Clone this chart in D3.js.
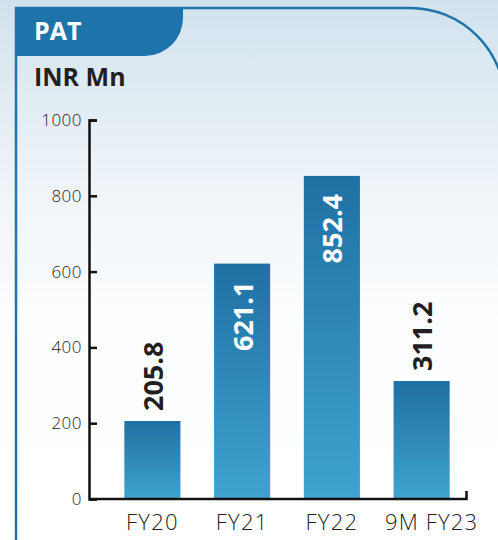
<!DOCTYPE html>
<html lang="en">
<head>
  <meta charset="UTF-8">
  <title>PAT - INR Mn</title>
  <script src="https://cdn.jsdelivr.net/npm/d3@7"></script>
  <style>
    html, body {
      margin: 0;
      padding: 0;
      background: #fff;
    }
    #chart svg {
      display: block;
    }
  </style>
</head>
<body>
  <div id="chart"></div>

  <script>
    // Values
    const categories = ['FY20', 'FY21', 'FY22', '9M FY23'];
    const patValues = [205.8, 621.1, 852.4, 311.2];
    const yTicks = [0, 200, 400, 600, 800, 1000];

    const width = 498;
    const height = 540;
    const font = '"Open Sans", "DejaVu Sans", sans-serif';
    const blue = '#1f74a9';

    const svg = d3.select('#chart')
      .append('svg')
      .attr('width', width)
      .attr('height', height)
      .attr('viewBox', [0, 0, width, height]);

    const defs = svg.append('defs');

    // Page background: pale blue fading to white
    const bg = defs.append('linearGradient')
      .attr('id', 'bg')
      .attr('x1', 0).attr('y1', 0).attr('x2', 0).attr('y2', 1);
    bg.append('stop').attr('offset', '0%').attr('stop-color', '#d1e2ed');
    bg.append('stop').attr('offset', '30%').attr('stop-color', '#ebf2f7');
    bg.append('stop').attr('offset', '60%').attr('stop-color', '#fdfeff');
    bg.append('stop').attr('offset', '100%').attr('stop-color', '#ffffff');

    // Bars: darker blue on top, lighter at the base
    const barGrad = defs.append('linearGradient')
      .attr('id', 'bar-grad')
      .attr('x1', 0).attr('y1', 0).attr('x2', 0).attr('y2', 1);
    barGrad.append('stop').attr('offset', '0%').attr('stop-color', '#2070a4');
    barGrad.append('stop').attr('offset', '100%').attr('stop-color', '#3fa3cf');

    svg.append('rect')
      .attr('width', width)
      .attr('height', height)
      .attr('fill', 'url(#bg)');

    // Panel outline with the big rounded top-right corner
    const panelLeft = 16, panelTop = 8, cornerR = 95;
    svg.append('path')
      .attr('d', `M${panelLeft},${height + 5} V${panelTop} H${width + 7 - cornerR} ` +
        `A${cornerR},${cornerR} 0 0 1 ${width + 7},${panelTop + cornerR} V${height + 5}`)
      .attr('fill', 'none')
      .attr('stroke', blue)
      .attr('stroke-width', 2.5);

    // Title tab
    const tabW = 183, tabH = 56, tabR = 38;
    svg.append('path')
      .attr('d', `M${panelLeft - 1},${panelTop - 1} H${tabW} V${tabH - tabR} ` +
        `A${tabR},${tabR} 0 0 1 ${tabW - tabR},${tabH} H${panelLeft - 1} Z`)
      .attr('fill', '#1c74aa');

    svg.append('text')
      .attr('x', 34)
      .attr('y', 40)
      .attr('fill', '#fff')
      .attr('font-family', font)
      .attr('font-weight', 700)
      .attr('font-size', 25)
      .text('PAT');

    svg.append('text')
      .attr('x', 34)
      .attr('y', 86)
      .attr('fill', '#231f20')
      .attr('font-family', font)
      .attr('font-weight', 700)
      .attr('font-size', 25)
      .text('INR Mn');

    // Scales
    const axisX = 89;
    const y = d3.scaleLinear()
      .domain([0, 1000])
      .range([499, 120]);

    const x = d3.scaleBand()
      .domain(categories)
      .range([107.5, 466.5])
      .paddingInner(0.375)
      .paddingOuter(0.1875);

    // Bars
    svg.append('g')
      .selectAll('rect')
      .data(patValues)
      .join('rect')
      .attr('x', (d, i) => x(categories[i]))
      .attr('y', d => y(d))
      .attr('width', x.bandwidth())
      .attr('height', d => y(0) - y(d))
      .attr('fill', 'url(#bar-grad)');

    // Y axis (ticks point inwards)
    const yAxis = svg.append('g')
      .attr('transform', `translate(${axisX},0)`)
      .call(d3.axisLeft(y)
        .tickValues(yTicks)
        .tickFormat(d3.format('d'))
        .tickSize(-8)
        .tickPadding(7));

    yAxis.selectAll('path, line')
      .attr('stroke', '#111')
      .attr('stroke-width', 2.5);
    yAxis.selectAll('text')
      .attr('fill', '#222')
      .attr('font-family', font)
      .attr('font-weight', 300)
      .attr('font-size', 17)
      .attr('letter-spacing', 0.5);

    // X axis: baseline with a small upturned end
    const xAxis = svg.append('g')
      .attr('transform', `translate(0,${y(0)})`)
      .call(d3.axisBottom(x).tickSize(0).tickPadding(15));

    xAxis.select('.domain').remove();
    xAxis.selectAll('text')
      .attr('fill', '#222')
      .attr('font-family', font)
      .attr('font-weight', 300)
      .attr('font-size', 22)
      .attr('letter-spacing', 1.2);
    // the last label sits a little right of its bar in the original
    xAxis.selectAll('.tick:last-of-type text').attr('dx', 10);

    const xEnd = x.range()[1];
    svg.append('path')
      .attr('d', `M${axisX},${y(0)} H${xEnd} V${y(0) - 8}`)
      .attr('fill', 'none')
      .attr('stroke', '#111')
      .attr('stroke-width', 2.5);

    // Value labels, rotated; inside tall bars, above short ones
    svg.append('g')
      .selectAll('text')
      .data(patValues)
      .join('text')
      .attr('transform', (d, i) => {
        const cx = x(categories[i]) + x.bandwidth() / 2;
        const ly = d > 500 ? y(d) + 18 : y(d) - 10;
        return `translate(${cx},${ly}) rotate(-90)`;
      })
      .attr('text-anchor', d => d > 500 ? 'end' : 'start')
      .attr('dominant-baseline', 'central')
      .attr('fill', d => d > 500 ? '#fff' : '#231f20')
      .attr('font-family', font)
      .attr('font-weight', 700)
      .attr('font-size', 27)
      .text(d => d.toFixed(1));
  </script>
</body>
</html>
